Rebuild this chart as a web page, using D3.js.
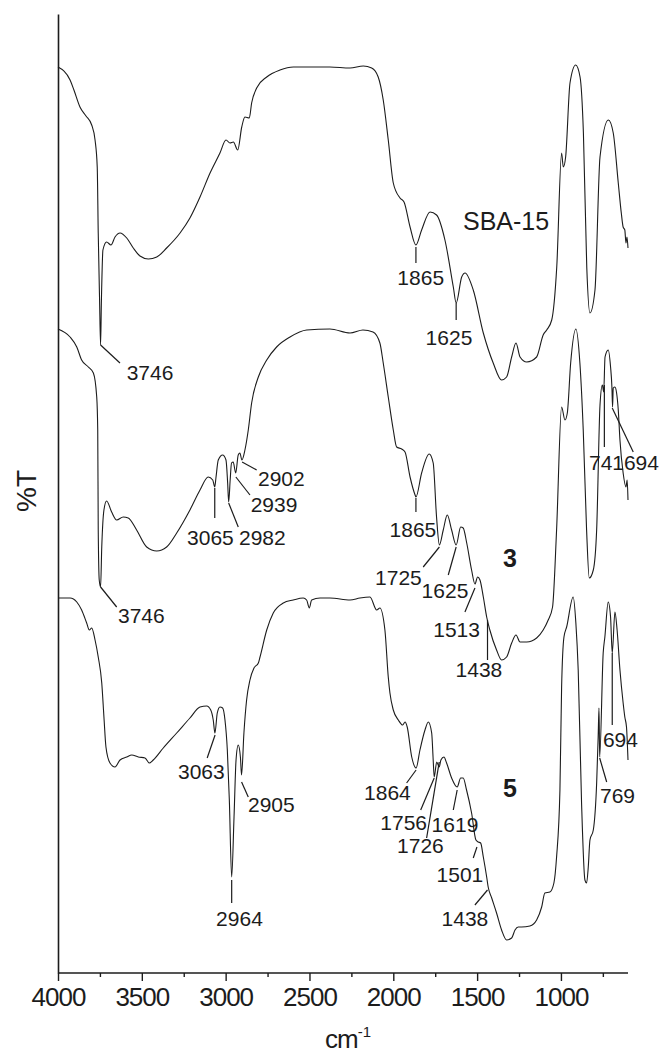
<!DOCTYPE html>
<html><head><meta charset="utf-8">
<script src="https://cdn.jsdelivr.net/npm/d3@7"></script>
<style>
html,body{margin:0;padding:0;background:#fff;}
svg{display:block;font-family:"Liberation Sans",Arial,Helvetica,sans-serif;}
</style></head>
<body>
<svg id="chart" width="661" height="1055"></svg>
<script>
// ---------------- DATA ----------------
// x: wavenumber (cm-1), y: %T (arbitrary, stacked spectra)
const xTicksMajor = [4000, 3500, 3000, 2500, 2000, 1500, 1000];
const xTicksMinor = [3750, 3250, 2750, 2250, 1750, 1250, 750];
const seriesNames = ["SBA-15", "3", "5"];

const sba15 = [
 [4000,90.6],[3928,89.3],[3905,88.3],[3869,86.6],[3833,85.7],[3799,84.8],[3779,83.3],[3766,80.6],
 [3760,74.0],[3752,67.3],[3746,62.8],[3741,67.3],[3732,72.3],[3710,73.1],[3684,72.8],[3660,73.6],
 [3630,74.0],[3590,73.5],[3551,72.5],[3511,71.7],[3461,71.4],[3411,71.6],[3352,72.5],[3272,74.0],
 [3213,75.5],[3153,77.6],[3093,80.0],[3034,82.0],[2998,83.3],[2974,83.0],[2954,83.1],[2928,82.3],
 [2904,84.6],[2885,85.6],[2859,85.5],[2845,87.0],[2815,88.5],[2755,89.6],[2676,90.3],[2596,90.6],
 [2378,90.6],[2258,90.5],[2179,90.7],[2129,90.5],[2090,89.6],[2060,87.3],[2030,83.3],[2000,79.0],
 [1960,77.5],[1936,77.1],[1900,74.6],[1865,72.8],[1831,74.3],[1781,76.1],[1742,75.8],[1692,73.3],
 [1642,68.6],[1625,67.0],[1592,69.6],[1572,70.0],[1523,68.3],[1463,64.0],[1404,61.0],[1354,59.3],
 [1324,59.6],[1294,61.6],[1268,63.0],[1244,61.6],[1204,61.1],[1145,61.6],[1106,63.8],[1085,64.3],
 [1055,65.3],[1025,70.6],[996,82.0],[986,80.6],[972,81.6],[946,89.0],[912,90.8],[886,89.6],
 [866,84.0],[846,70.6],[827,66.0],[797,68.3],[767,81.6],[717,85.3],[688,84.0],[658,79.0],
 [640,76.0],[629,74.6],[619,74.3],[612,73.0],[606,73.6],[600,72.5]
];

const sample3 = [
 [4000,64.4],[3928,63.6],[3888,62.6],[3859,61.3],[3819,60.6],[3789,60.0],[3769,57.6],[3763,54.3],
 [3760,44.3],[3754,39.3],[3746,38.6],[3739,42.6],[3726,46.3],[3710,47.2],[3680,46.1],[3650,45.3],
 [3611,45.6],[3581,45.5],[3531,44.3],[3471,42.6],[3411,42.2],[3352,42.6],[3292,44.0],[3213,46.3],
 [3153,48.3],[3104,49.6],[3077,49.3],[3065,48.6],[3058,49.5],[3044,51.3],[3018,51.8],[2998,51.3],
 [2988,49.0],[2982,47.1],[2973,49.3],[2965,51.0],[2955,51.1],[2940,50.0],[2925,51.8],[2915,52.0],
 [2903,51.3],[2885,52.3],[2865,54.3],[2845,57.0],[2805,59.6],[2755,61.3],[2696,62.6],[2616,63.6],
 [2517,64.3],[2378,64.4],[2258,64.0],[2181,64.3],[2121,64.1],[2080,63.0],[2060,61.0],[2030,57.6],
 [2000,54.3],[1980,52.6],[1950,52.4],[1930,52.1],[1900,49.6],[1870,47.8],[1865,47.6],[1831,50.0],
 [1786,51.9],[1762,51.0],[1742,45.6],[1725,42.8],[1702,44.3],[1678,45.8],[1652,44.3],[1625,42.8],
 [1598,44.6],[1583,44.5],[1562,43.0],[1533,40.3],[1513,38.9],[1497,39.6],[1483,39.3],[1463,37.6],
 [1443,35.6],[1424,34.3],[1384,32.3],[1354,31.3],[1324,31.6],[1294,33.0],[1268,33.8],[1244,33.1],
 [1204,33.1],[1145,33.5],[1106,34.3],[1076,35.3],[1050,36.6],[1026,44.3],[996,56.6],[976,55.3],
 [962,56.0],[942,61.0],[911,64.4],[887,61.0],[867,54.3],[847,44.3],[831,39.5],[807,40.3],
 [787,44.3],[767,56.8],[753,58.8],[745,58.1],[737,61.6],[718,62.3],[704,60.6],[696,58.6],
 [692,56.6],[688,58.5],[678,58.6],[668,58.0],[658,56.3],[648,53.3],[629,50.0],[612,48.6],
 [605,49.3],[600,47.3]
];

const sample5 = [
 [4000,37.5],[3928,37.5],[3888,37.1],[3859,36.3],[3829,35.0],[3813,34.3],[3799,34.5],[3779,33.3],
 [3760,31.6],[3739,29.0],[3726,25.6],[3714,22.6],[3690,21.0],[3660,20.6],[3630,21.3],[3590,21.6],
 [3560,21.8],[3521,21.6],[3481,21.5],[3455,21.0],[3432,21.3],[3372,22.5],[3292,24.0],[3213,25.5],
 [3153,26.6],[3113,26.7],[3089,26.3],[3074,25.3],[3064,24.0],[3050,26.0],[3034,26.6],[3018,26.5],
 [3004,25.3],[2990,22.3],[2978,17.3],[2964,9.6],[2950,15.6],[2938,21.3],[2925,22.8],[2912,21.6],
 [2905,19.8],[2891,24.0],[2875,27.3],[2855,29.3],[2831,30.5],[2805,31.0],[2795,31.6],[2755,34.3],
 [2716,36.0],[2656,37.0],[2597,37.3],[2537,37.5],[2517,37.3],[2501,36.5],[2487,37.3],[2437,37.5],
 [2378,37.5],[2258,37.3],[2199,37.5],[2139,37.6],[2099,36.3],[2080,36.5],[2050,34.3],[2030,29.6],
 [2020,28.0],[2000,26.3],[1970,25.3],[1944,24.8],[1930,25.1],[1917,24.6],[1890,21.6],[1864,20.5],
 [1841,22.3],[1811,24.3],[1791,25.1],[1771,24.0],[1762,21.3],[1756,19.6],[1741,21.1],[1726,20.6],
 [1716,21.3],[1698,21.6],[1682,21.0],[1652,19.5],[1619,18.6],[1598,19.5],[1583,19.5],[1563,18.3],
 [1533,16.0],[1507,13.3],[1493,13.1],[1479,13.0],[1463,11.6],[1443,9.6],[1434,8.6],[1413,7.5],
 [1384,6.0],[1354,4.3],[1324,3.3],[1294,3.5],[1274,4.3],[1255,4.6],[1235,4.6],[1185,4.7],
 [1145,5.3],[1115,6.6],[1096,8.0],[1066,8.1],[1042,9.0],[1026,11.6],[1006,18.3],[996,28.6],
 [982,33.6],[966,34.6],[927,37.6],[911,35.0],[897,30.3],[877,17.0],[857,9.3],[847,9.0],
 [837,10.6],[827,13.3],[807,14.3],[787,19.0],[778,23.6],[773,26.5],[769,21.6],[748,32.0],
 [738,33.6],[718,37.1],[704,35.6],[694,32.0],[678,36.1],[665,34.3],[648,30.3],[629,27.0],
 [619,25.6],[609,24.6],[600,21.3]
];

// peak annotations: [label, wavenumber, %T at leader start]
const peaksSBA15 = [["3746",3746,62.8],["1865",1865,72.6],["1625",1625,67.0]];
const peaks3 = [["3746",3746,38.6],["3065",3065,48.5],["2982",2982,47.0],["2939",2939,49.6],
  ["2902",2902,51.1],["1865",1865,47.5],["1725",1725,42.6],["1625",1625,42.6],["1513",1513,38.5],
  ["1438",1438,35.3],["741",741,58.8],["694",694,56.5]];
const peaks5 = [["3063",3063,23.8],["2964",2964,9.3],["2905",2905,19.1],["1864",1864,20.3],
  ["1756",1756,19.5],["1726",1726,21.1],["1619",1619,18.3],["1501",1501,12.6],["1438",1438,8.3],
  ["769",769,21.5],["694",694,32.0]];

// ---------------- LAYOUT ----------------
// leader offsets [dx1,dy1] and text offsets [tdx,tdy,anchor], in px, relative to leader start
const layoutSBA15 = [[19.4,18,26.1,35,"start"],[0,16,4.8,38,"middle"],[0,17,-7.2,42,"middle"]];
const layout3 = [[16.1,20,17.4,36,"start"],[0,30,-4.3,57,"middle"],[9.6,24,10.3,42,"start"],
  [14.1,18,14.8,35,"start"],[14.6,8,15.9,24,"start"],[0,14,-3,39,"middle"],[-16.2,20,-41,38,"middle"],
  [-7.9,28,-11.2,51,"middle"],[-10,24,-18.3,48.7,"middle"],[0,40,-8.6,56.7,"middle"],
  [0,62,-15.4,85,"start"],[21,44,11.7,62,"start"]];
const layout5 = [[-7.9,23,-13.7,44,"middle"],[0,23,7.8,46,"middle"],[6.7,15,6.4,30,"start"],
  [-9.5,13,-28.7,30,"middle"],[-13.5,32,-30.5,52,"middle"],[-12.6,76,-18.8,91.3,"middle"],
  [-3.9,20,-2.2,41.7,"middle"],[-3.7,11,-17,34.7,"middle"],[-12.6,15,-22.6,36,"middle"],
  [7,24,0.3,45,"start"],[0,72,-9.3,94,"start"]];
// series name placement: [x px, %T of baseline, weight, anchor]
const nameSpots = [[463, 74.3, "normal", "start"], [510, 40.6, "bold", "middle"], [510, 17.6, "bold", "middle"]];

const svg = d3.select("#chart");
const ink = "#1c1c1c";
const x = d3.scaleLinear().domain([4000, 600]).range([58, 628]);
const y = d3.scaleLinear().domain([0, 95.9]).range([973, 14]);

// axes
const xAxis = d3.axisBottom(x).tickValues(xTicksMajor).tickSize(8).tickFormat(d3.format("d"));
const gx = svg.append("g").attr("transform", "translate(0,973)").call(xAxis);
gx.select(".domain").attr("stroke", ink).attr("stroke-width", 1.6).attr("d", `M${x(4000)},0H${x(600)}`);
gx.selectAll(".tick line").attr("stroke", ink).attr("stroke-width", 1.4);
gx.selectAll(".tick text").attr("fill", ink).attr("font-size", 26).attr("letter-spacing", "-1px")
  .attr("y", 33).attr("dy", 0).attr("font-family", "'Liberation Sans',Arial,sans-serif");
const gxm = svg.append("g").attr("transform", "translate(0,973)")
  .call(d3.axisBottom(x).tickValues(xTicksMinor).tickSize(4).tickFormat(""));
gxm.select(".domain").remove();
gxm.selectAll(".tick line").attr("stroke", ink).attr("stroke-width", 1.4);

const gy = svg.append("g").attr("transform", "translate(58,0)")
  .call(d3.axisLeft(y).tickValues([]).tickSizeOuter(0));
gy.select(".domain").attr("stroke", ink).attr("stroke-width", 1.6);

// axis titles
svg.append("text").attr("transform", "translate(36,491) rotate(-90)").attr("text-anchor", "middle")
  .attr("font-size", 28).attr("fill", ink).text("%T");
const xt = svg.append("text").attr("x", 325).attr("y", 1048).attr("font-size", 26)
  .attr("letter-spacing", "-1px").attr("fill", ink);
xt.append("tspan").text("cm");
xt.append("tspan").attr("dy", -11).attr("font-size", 15).attr("letter-spacing", "0px").text("-1");

// spectra
const line = d3.line().x(d => x(d[0])).y(d => y(d[1])).curve(d3.curveMonotoneX);
[sba15, sample3, sample5].forEach(s => {
  svg.append("path").datum(s).attr("d", line).attr("fill", "none")
    .attr("stroke", ink).attr("stroke-width", 1.1).attr("stroke-linejoin", "round");
});

// peak labels
function annotate(peaks, layout) {
  peaks.forEach((p, i) => {
    const [lab, wn, v] = p;
    const [dx1, dy1, tdx, tdy, anchor] = layout[i];
    const x0 = x(wn), y0 = y(v);
    svg.append("line").attr("x1", x0).attr("y1", y0).attr("x2", x0 + dx1).attr("y2", y0 + dy1)
      .attr("stroke", ink).attr("stroke-width", 1.2);
    svg.append("text").attr("x", x0 + tdx).attr("y", y0 + tdy).attr("text-anchor", anchor)
      .attr("font-size", 21).attr("fill", ink).text(lab);
  });
}
annotate(peaksSBA15, layoutSBA15);
annotate(peaks3, layout3);
annotate(peaks5, layout5);

// series names
seriesNames.forEach((n, i) => {
  const [px, v, fw, an] = nameSpots[i];
  svg.append("text").attr("x", px).attr("y", y(v)).attr("text-anchor", an)
    .attr("font-size", 25).attr("font-weight", fw).attr("fill", ink).text(n);
});
</script>
</body></html>
